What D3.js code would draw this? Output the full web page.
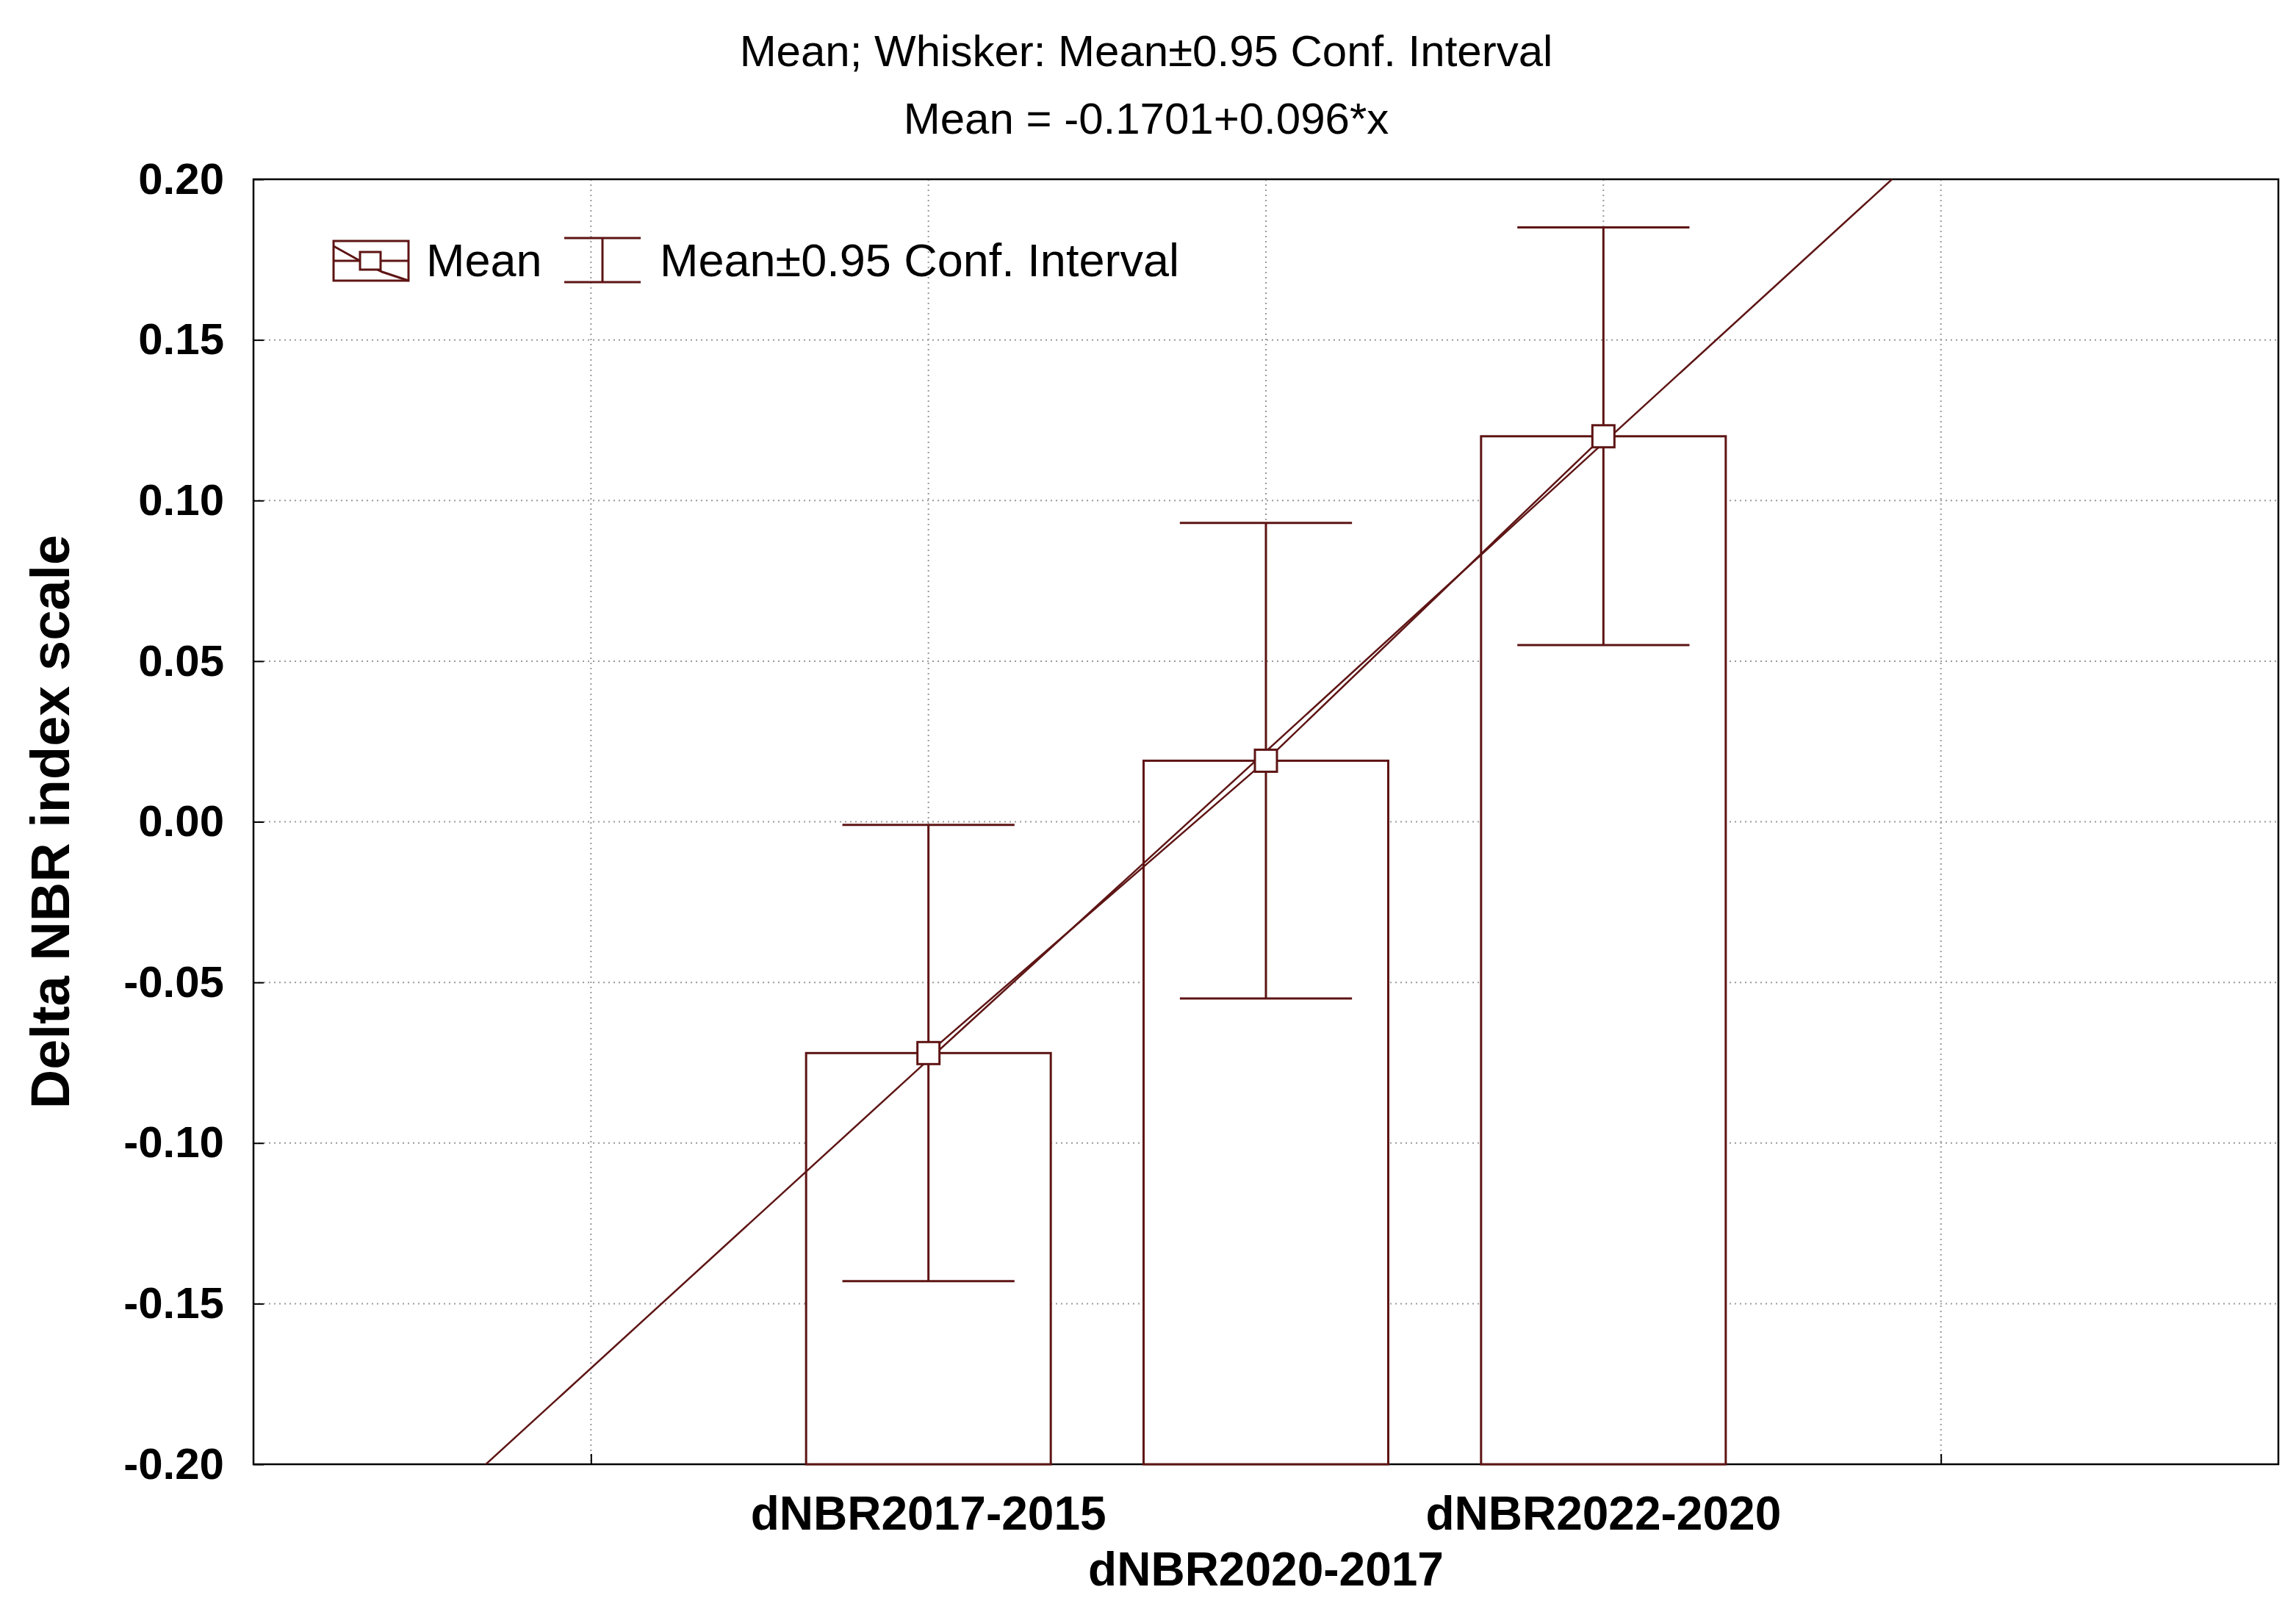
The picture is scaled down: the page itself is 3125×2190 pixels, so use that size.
<!DOCTYPE html>
<html><head><meta charset="utf-8">
<script src="https://cdn.jsdelivr.net/npm/d3@7"></script>
<style>body{margin:0;background:#fff}text{font-family:"Liberation Sans",Arial,sans-serif}</style>
</head><body><svg width="3125" height="2190"></svg>
<script>
var categories = ["dNBR2017-2015", "dNBR2020-2017", "dNBR2022-2020"];
var means = [-0.072, 0.019, 0.120];
var ciLow = [-0.143, -0.055, 0.055];
var ciHigh = [-0.001, 0.093, 0.185];
var yTicks = [-0.20, -0.15, -0.10, -0.05, 0.00, 0.05, 0.10, 0.15, 0.20];
var fit = {a: -0.1701, b: 0.096};

var col = "#5e1414";
var svg = d3.select("svg");
var L = 345, R = 3101, T = 244, B = 1993;
var x = d3.scaleLinear().domain([0, 6]).range([L, R]);
var y = d3.scaleLinear().domain([-0.2, 0.2]).range([B, T]);

// gridlines
var g = svg.append("g").attr("stroke", "#999").attr("stroke-width", 2).attr("stroke-dasharray", "2,5");
g.selectAll(".gx").data([1, 2, 3, 4, 5]).enter().append("line")
  .attr("x1", function(d) { return x(d); }).attr("x2", function(d) { return x(d); }).attr("y1", T).attr("y2", B);
g.selectAll(".gy").data(yTicks.slice(1, -1)).enter().append("line")
  .attr("y1", function(d) { return y(d); }).attr("y2", function(d) { return y(d); }).attr("x1", L).attr("x2", R);

// axes
var yAxis = d3.axisLeft(y).tickValues(yTicks).tickFormat(d3.format(".2f")).tickSize(14);
var ya = svg.append("g").attr("transform", "translate(" + L + ",0)").call(yAxis);
ya.selectAll("text").attr("font-size", 60).attr("font-weight", "bold").attr("x", -40).attr("fill", "#000")
  .text(function(d) { return d3.format(".2f")(d).replace("−", "-"); });
ya.selectAll("line").attr("stroke", "#000").attr("stroke-width", 2).attr("transform", "translate(14,0)");
ya.select(".domain").remove();
var xAxis = d3.axisBottom(x).tickValues([1, 2, 3, 4, 5]).tickSize(14).tickFormat("");
var xa = svg.append("g").attr("transform", "translate(0," + B + ")").call(xAxis);
xa.selectAll("line").attr("stroke", "#000").attr("stroke-width", 2).attr("transform", "translate(0,-14)");
xa.select(".domain").remove();
svg.append("rect").attr("x", L).attr("y", T).attr("width", R - L).attr("height", B - T)
  .attr("fill", "none").attr("stroke", "#000").attr("stroke-width", 2.5);

var plot = svg.append("g");
// bars
var bw = 0.725;
plot.selectAll(".bar").data(means).enter().append("rect")
  .attr("x", function(d, i) { return x(i + 2 - bw / 2); })
  .attr("width", x(bw) - x(0))
  .attr("y", function(d) { return y(d); })
  .attr("height", function(d) { return B - y(d); })
  .attr("fill", "#fff").attr("stroke", col).attr("stroke-width", 3);

// regression line
var clip = svg.append("clipPath").attr("id", "c").append("rect").attr("x", L).attr("y", T).attr("width", R - L).attr("height", B - T);
plot.append("line").attr("clip-path", "url(#c)")
  .attr("x1", x(-1)).attr("y1", y(fit.a + fit.b * -2))
  .attr("x2", x(6)).attr("y2", y(fit.a + fit.b * 5))
  .attr("stroke", col).attr("stroke-width", 2.5);
// mean line
plot.append("path").datum(means)
  .attr("d", d3.line().x(function(d, i) { return x(i + 2); }).y(function(d) { return y(d); }))
  .attr("fill", "none").attr("stroke", col).attr("stroke-width", 2.5);

// whiskers
var cw = 0.51;
categories.forEach(function(c, i) {
  var cx = x(i + 2);
  plot.append("line").attr("x1", cx).attr("x2", cx).attr("y1", y(ciLow[i])).attr("y2", y(ciHigh[i])).attr("stroke", col).attr("stroke-width", 3);
  [ciLow[i], ciHigh[i]].forEach(function(v) {
    plot.append("line").attr("x1", x(i + 2 - cw / 2)).attr("x2", x(i + 2 + cw / 2)).attr("y1", y(v)).attr("y2", y(v)).attr("stroke", col).attr("stroke-width", 3);
  });
  plot.append("rect").attr("x", cx - 15).attr("y", y(means[i]) - 15).attr("width", 30).attr("height", 30)
    .attr("fill", "#fff").attr("stroke", col).attr("stroke-width", 3);
  svg.append("text").attr("x", cx).attr("y", i % 2 ? 2158 : 2082).attr("text-anchor", "middle")
    .attr("font-size", 64).attr("font-weight", "bold").text(c);
});

// titles
svg.append("text").attr("x", 1560).attr("y", 90).attr("text-anchor", "middle").attr("font-size", 60).text("Mean; Whisker: Mean±0.95 Conf. Interval");
svg.append("text").attr("x", 1560).attr("y", 182).attr("text-anchor", "middle").attr("font-size", 60).text("Mean = -0.1701+0.096*x");
svg.append("text").attr("transform", "translate(94," + (T + B) / 2 + ") rotate(-90)").attr("text-anchor", "middle")
  .attr("font-size", 74).attr("font-weight", "bold").text("Delta NBR index scale");

// legend
var lg = svg.append("g").attr("stroke", col).attr("stroke-width", 3).attr("fill", "none");
lg.append("rect").attr("x", 454).attr("y", 328).attr("width", 102).attr("height", 54);
lg.append("line").attr("x1", 454).attr("x2", 556).attr("y1", 355).attr("y2", 355);
lg.append("path").attr("d", "M454,335 L490,355 L520,370 L556,382");
lg.append("rect").attr("x", 490).attr("y", 343).attr("width", 28).attr("height", 24).attr("fill", "#fff");
svg.append("text").attr("x", 580).attr("y", 376).attr("font-size", 63).text("Mean");
lg.append("line").attr("x1", 768).attr("x2", 872).attr("y1", 324).attr("y2", 324);
lg.append("line").attr("x1", 768).attr("x2", 872).attr("y1", 384).attr("y2", 384);
lg.append("line").attr("x1", 820).attr("x2", 820).attr("y1", 324).attr("y2", 384);
svg.append("text").attr("x", 898).attr("y", 376).attr("font-size", 63).text("Mean±0.95 Conf. Interval");
</script></body></html>
